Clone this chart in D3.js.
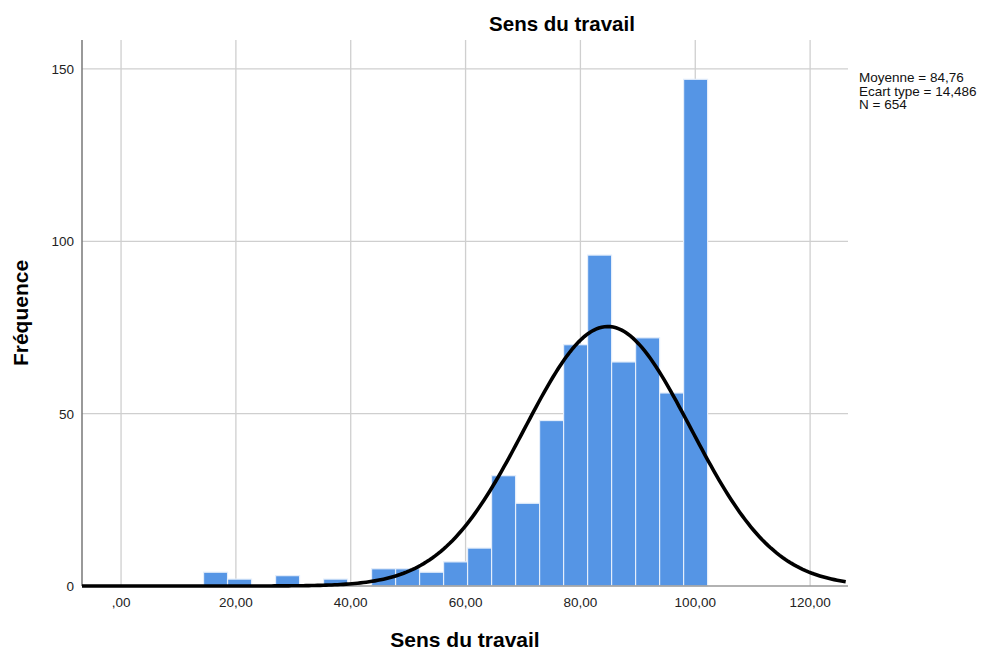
<!DOCTYPE html>
<html>
<head>
<meta charset="utf-8">
<script src="https://cdn.jsdelivr.net/npm/d3@7"></script>
<style>
  body { margin: 0; background: #fff; }
  text { font-family: "Liberation Sans", Arial, sans-serif; }
</style>
</head>
<body>
<div id="chart"></div>
<script>
// histogram bins (lower edge of each bin) and counts
const binWidth = 4.18;
const binLow = [14.37, 18.55, 22.73, 26.91, 31.09, 35.27, 39.45, 43.63, 47.81, 51.99,
                56.17, 60.35, 64.53, 68.71, 72.89, 77.07, 81.25, 85.43, 89.61, 93.79, 97.97];
const counts = [4, 2, 0, 3, 0, 2, 0, 5, 5, 4,
                7, 11, 32, 24, 48, 70, 96, 65, 72, 56, 147];

// summary stats shown at the right
const mean = 84.76;
const sd = 14.486;
const n = 654;
const statLines = ["Moyenne = 84,76", "Ecart type = 14,486", "N = 654"];

const xTicks = [0, 20, 40, 60, 80, 100, 120];
const yTicks = [0, 50, 100, 150];

const width = 988, height = 652;
const margin = {left: 82, right: 140, top: 40, bottom: 66};

const svg = d3.select("#chart").append("svg")
    .attr("width", width)
    .attr("height", height);

const x = d3.scaleLinear()
    .domain([-6.8, 126.6])
    .range([margin.left, width - margin.right]);

const y = d3.scaleLinear()
    .domain([0, 158.4])
    .range([height - margin.bottom, margin.top]);

let fmt = v => v === 0 ? ",00" : d3.format(".2f")(v).replace(".", ",");

// grid
svg.append("g").selectAll("line.vg")
    .data(xTicks)
    .enter().append("line")
    .attr("x1", d => x(d)).attr("x2", d => x(d))
    .attr("y1", y.range()[1]).attr("y2", y.range()[0])
    .attr("stroke", "#cfcfcf").attr("stroke-width", 1.3);

svg.append("g").selectAll("line.hg")
    .data(yTicks.filter(d => d > 0))
    .enter().append("line")
    .attr("x1", x.range()[0]).attr("x2", x.range()[1])
    .attr("y1", d => y(d)).attr("y2", d => y(d))
    .attr("stroke", "#cfcfcf").attr("stroke-width", 1.3);

// bars
svg.append("g").selectAll("rect")
    .data(binLow.map((d, i) => ({low: d, count: counts[i]})).filter(d => d.count > 0))
    .enter().append("rect")
    .attr("x", d => x(d.low))
    .attr("width", d => x(d.low + binWidth) - x(d.low))
    .attr("y", d => y(d.count))
    .attr("height", d => y(0) - y(d.count))
    .attr("fill", "#5595e5")
    .attr("stroke", "#e4eefb")
    .attr("stroke-width", 1.2);

// axes lines
svg.append("line")
    .attr("x1", x.range()[0]).attr("x2", x.range()[1])
    .attr("y1", y(0)).attr("y2", y(0))
    .attr("stroke", "#999").attr("stroke-width", 1.5);

svg.append("line")
    .attr("x1", x.range()[0]).attr("x2", x.range()[0])
    .attr("y1", y.range()[1]).attr("y2", y(0))
    .attr("stroke", "#777").attr("stroke-width", 1.5);

// normal curve
let pdf = v => Math.exp(-0.5 * Math.pow((v - mean) / sd, 2)) / (sd * Math.sqrt(2 * Math.PI));
let curvePts = d3.range(x.domain()[0], x.domain()[1] + 0.01, 0.5).map(v => [v, n * binWidth * pdf(v)]);

svg.append("path")
    .datum(curvePts)
    .attr("fill", "none")
    .attr("stroke", "#000")
    .attr("stroke-width", 3.6)
    .attr("d", d3.line().x(d => x(d[0])).y(d => y(d[1])));

// tick labels
svg.append("g").selectAll("text")
    .data(xTicks)
    .enter().append("text")
    .attr("x", d => x(d))
    .attr("y", y(0) + 21)
    .attr("text-anchor", "middle")
    .attr("font-size", 13.5)
    .attr("fill", "#222")
    .text(fmt);

svg.append("g").selectAll("text")
    .data(yTicks)
    .enter().append("text")
    .attr("x", x.range()[0] - 8)
    .attr("y", d => y(d) + 5)
    .attr("text-anchor", "end")
    .attr("font-size", 13.5)
    .attr("fill", "#222")
    .text(d => d);

// titles
svg.append("text")
    .attr("x", 562).attr("y", 31)
    .attr("text-anchor", "middle")
    .attr("font-size", 20.5).attr("font-weight", "bold")
    .text("Sens du travail");

svg.append("text")
    .attr("x", (x.range()[0] + x.range()[1]) / 2).attr("y", 647)
    .attr("text-anchor", "middle")
    .attr("font-size", 21).attr("font-weight", "bold")
    .text("Sens du travail");

svg.append("text")
    .attr("transform", "translate(28," + ((y.range()[0] + y.range()[1]) / 2) + ") rotate(-90)")
    .attr("text-anchor", "middle")
    .attr("font-size", 21).attr("font-weight", "bold")
    .text("Fréquence");

// stats box
svg.append("g").selectAll("text")
    .data(statLines)
    .enter().append("text")
    .attr("x", 859)
    .attr("y", (d, i) => 82 + i * 13.5)
    .attr("font-size", 13.5)
    .attr("fill", "#111")
    .text(d => d);
</script>
</body>
</html>
